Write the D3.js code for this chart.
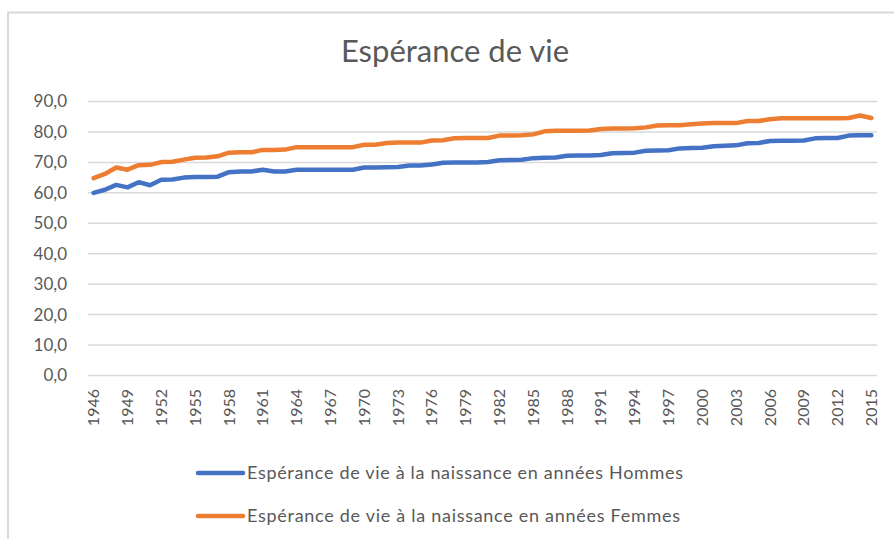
<!DOCTYPE html>
<html>
<head>
<meta charset="utf-8">
<script src="https://cdn.jsdelivr.net/npm/d3@7"></script>
<style>
  html, body { margin: 0; padding: 0; background: #fff; }
  svg { display: block; }
  text { font-family: Lato, "Open Sans", sans-serif; fill: #595959; }
</style>
</head>
<body>
<svg id="chart" width="894" height="539"></svg>
<script>
const title = "Espérance de vie";
const years = d3.range(1946, 2016);
const hommes = [
  60.0, 61.0, 62.6, 61.8, 63.5, 62.5, 64.3, 64.4, 65.0, 65.2,
  65.2, 65.3, 66.8, 67.0, 67.0, 67.6, 67.0, 67.0, 67.6, 67.6,
  67.6, 67.6, 67.6, 67.6, 68.3, 68.3, 68.4, 68.5, 69.0, 69.0,
  69.3, 69.9, 70.0, 70.0, 70.0, 70.1, 70.7, 70.8, 70.9, 71.4,
  71.5, 71.6, 72.2, 72.3, 72.3, 72.4, 73.0, 73.1, 73.2, 73.8,
  73.9, 74.0, 74.6, 74.7, 74.8, 75.3, 75.5, 75.6, 76.3, 76.4,
  77.0, 77.1, 77.1, 77.2, 77.9, 78.0, 78.0, 78.8, 78.9, 78.9
];
const femmes = [
  64.8, 66.2, 68.3, 67.6, 69.1, 69.2, 70.1, 70.2, 70.9, 71.5,
  71.6, 72.0, 73.2, 73.3, 73.3, 74.1, 74.1, 74.2, 75.0, 75.0,
  75.0, 75.0, 75.0, 75.0, 75.8, 75.8, 76.4, 76.5, 76.5, 76.5,
  77.2, 77.3, 77.9, 78.0, 78.0, 78.0, 78.8, 78.8, 78.9, 79.2,
  80.2, 80.4, 80.4, 80.4, 80.5, 81.0, 81.1, 81.1, 81.2, 81.5,
  82.1, 82.2, 82.2, 82.5, 82.8, 82.9, 82.9, 82.9, 83.6, 83.6,
  84.2, 84.5, 84.5, 84.5, 84.5, 84.5, 84.5, 84.6, 85.4, 84.6
];
const yTicks = [0, 10, 20, 30, 40, 50, 60, 70, 80, 90];
const xTickYears = years.filter((y, i) => i % 3 === 0);
const seriesNames = ["Espérance de vie à la naissance en années Hommes",
                     "Espérance de vie à la naissance en années Femmes"];
const colors = ["#4472C4", "#ED7D31"];

const svg = d3.select("#chart");

// frame
svg.append("path")
  .attr("d", "M8,539 V12.5 H894")
  .attr("fill", "none")
  .attr("stroke", "#d9d9d9")
  .attr("stroke-width", 2);

const x = d3.scaleBand().domain(years).range([88, 877]).padding(0);
const y = d3.scaleLinear().domain([0, 90]).range([375.5, 101.5]);
const cx = d => x(d) + x.bandwidth() / 2;

// title
svg.append("text")
  .attr("x", 455).attr("y", 62)
  .attr("text-anchor", "middle")
  .style("font-size", "31px")
  .text(title);

// grid lines
svg.append("g").selectAll("line")
  .data(yTicks).join("line")
  .attr("x1", 88).attr("x2", 877)
  .attr("y1", d => y(d)).attr("y2", d => y(d))
  .attr("stroke", "#d9d9d9").attr("stroke-width", 1.5);

// y axis labels
const fmt = d => d3.format(".1f")(d).replace(".", ",");
svg.append("g").selectAll("text")
  .data(yTicks).join("text")
  .attr("x", 67).attr("y", d => y(d))
  .attr("dy", "0.35em")
  .attr("text-anchor", "end")
  .style("font-size", "17px")
  .text(fmt);

// x axis labels
svg.append("g").selectAll("text")
  .data(xTickYears).join("text")
  .attr("transform", d => `translate(${cx(d)},389) rotate(-90)`)
  .attr("dy", "0.35em")
  .attr("text-anchor", "end")
  .style("font-size", "16px")
  .text(d => d);

// lines
const line = d3.line().x((d, i) => cx(years[i])).y(d => y(d));
[hommes, femmes].forEach((s, k) => {
  svg.append("path")
    .datum(s)
    .attr("d", line)
    .attr("fill", "none")
    .attr("stroke", colors[k])
    .attr("stroke-width", 4.5)
    .attr("stroke-linejoin", "round")
    .attr("stroke-linecap", "round");
});

// legend
const legY = [473, 516];
const legLen = [436, 433];
seriesNames.forEach((n, k) => {
  svg.append("line")
    .attr("x1", 198).attr("x2", 243)
    .attr("y1", legY[k]).attr("y2", legY[k])
    .attr("stroke", colors[k]).attr("stroke-width", 4.5)
    .attr("stroke-linecap", "round");
  svg.append("text")
    .attr("x", 247).attr("y", legY[k])
    .attr("dy", "0.35em")
    .attr("textLength", legLen[k])
    .attr("lengthAdjust", "spacing")
    .style("font-size", "18px")
    .text(n);
});
</script>
</body>
</html>
